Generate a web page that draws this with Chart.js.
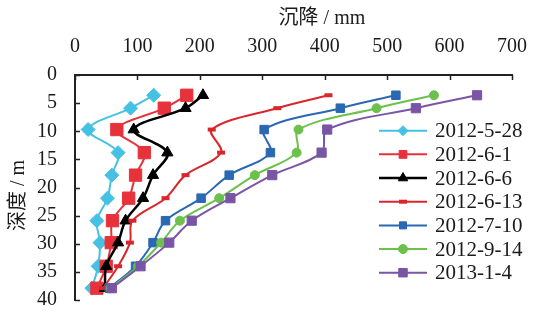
<!DOCTYPE html>
<html>
<head>
<meta charset="utf-8">
<script src="https://cdn.jsdelivr.net/npm/chart.js@4.4.1/dist/chart.umd.min.js"></script>
<style>
  html, body { margin: 0; padding: 0; background: #ffffff; }
  #wrap { width: 535px; height: 322px; }
  .probe { position: absolute; left: -9999px; top: 0; font-size: 20px; }
</style>
</head>
<body>
<span class="probe" style="font-family:'Liberation Serif'">0123 沉降</span>
<span class="probe" style="font-family:'DejaVu Serif'">0123</span>
<div id="wrap"><canvas id="c" width="535" height="322"></canvas></div>
<script>
// Depth of each measuring point (m)
const depths = [3.6, 5.9, 9.7, 13.8, 17.8, 21.9, 25.9, 29.8, 34, 37.9];

// Survey dates
const seriesNames = ['2012-5-28', '2012-6-1', '2012-6-6', '2012-6-13', '2012-7-10', '2012-9-14', '2013-1-4'];

// Settlement (mm) at each depth, one list per survey
const settle_2012_5_28 = [126, 89, 21, 69, 59, 52, 35, 40, 37, 27];
const settle_2012_6_1  = [179, 143, 67, 111, 97, 86, 60, 58, 50, 35];
const settle_2012_6_6  = [205, 177, 94, 148, 125, 109, 81, 69, 50, 48];
const settle_2012_6_13 = [406, 324, 219, 234, 177, 145, 92, 88, 69, 45];
const settle_2012_7_10 = [514, 425, 303, 313, 247, 202, 145, 125, 97, 55];
const settle_2012_9_14 = [575, 483, 358, 355, 288, 231, 168, 138, 101, 57];
const settle_2013_1_4  = [644, 546, 404, 395, 316, 249, 187, 151, 105, 59];

// Axis ticks
const settleTicks = [0, 100, 200, 300, 400, 500, 600, 700];
const depthTicks = [0, 5, 10, 15, 20, 25, 30, 35, 40];

const xTitle = '沉降 / mm';
const yTitle = '深度 / m';

const seriesValues = [settle_2012_5_28, settle_2012_6_1, settle_2012_6_6, settle_2012_6_13,
                      settle_2012_7_10, settle_2012_9_14, settle_2013_1_4];

// Visual style per series
const styles = [
  { color: '#45C1E4', style: 'rectRot',  r: 7,   lr: 5,   lw: 2 },
  { color: '#E8323B', style: 'rect',     r: 8.7, lr: 5.5, lw: 2 },
  { color: '#000000', style: 'triangle', r: 6.5, lr: 5.5, lw: 2.5 },
  { color: '#D9262D', style: 'line',     r: 4,   lr: 4,   lw: 2, pbw: 4 },
  { color: '#2A68B2', style: 'rect',     r: 6,   lr: 5,   lw: 2 },
  { color: '#6CC04C', style: 'circle',   r: 4.5, lr: 4.5, lw: 2 },
  { color: '#7A55A6', style: 'rect',     r: 6.5, lr: 6,   lw: 2 }
];

const SERIF = "'Liberation Serif', 'DejaVu Serif', serif";
const CJK = "'Liberation Serif', 'Noto Sans CJK SC', serif";
const TEXT_COLOR = '#1a1a1a';
const AXIS_COLOR = '#222222';

const datasets = seriesNames.map((name, i) => {
  const s = styles[i];
  return {
    label: name,
    data: depths.map((d, k) => ({ x: seriesValues[i][k], y: d })),
    borderColor: s.color,
    backgroundColor: s.color,
    borderWidth: s.lw,
    pointStyle: s.style,
    pointRadius: s.r,
    pointBorderWidth: s.pbw || 1,
    pointBorderColor: s.color,
    pointBackgroundColor: s.color,
    tension: 0.35,
    fill: false,
    clip: false,
    order: -i
  };
});

function drawMarker(ctx, s, x, y, r) {
  ctx.fillStyle = s.color;
  ctx.strokeStyle = s.color;
  ctx.lineWidth = s.pbw || 1;
  if (Chart.helpers && Chart.helpers.drawPoint) {
    Chart.helpers.drawPoint(ctx, { pointStyle: s.style, radius: r, rotation: 0, borderWidth: s.pbw || 1 }, x, y);
  }
}

// Inward ticks, axis titles and in-plot legend
const decor = {
  id: 'decor',
  afterDraw(chart) {
    const { ctx, chartArea: a, scales: { x, y } } = chart;
    ctx.save();
    ctx.strokeStyle = AXIS_COLOR;
    ctx.lineWidth = 1.5;
    const TL = 5;
    x.ticks.forEach(t => {
      const px = Math.round(x.getPixelForValue(t.value)) + 0.5;
      ctx.beginPath(); ctx.moveTo(px, a.top); ctx.lineTo(px, a.top + TL); ctx.stroke();
    });
    y.ticks.forEach(t => {
      const py = Math.round(y.getPixelForValue(t.value)) + 0.5;
      ctx.beginPath(); ctx.moveTo(a.left, py); ctx.lineTo(a.left + TL, py); ctx.stroke();
    });

    // axis titles
    ctx.fillStyle = TEXT_COLOR;
    ctx.font = '20px ' + CJK;
    ctx.textAlign = 'center';
    ctx.textBaseline = 'middle';
    ctx.fillText(xTitle, a.left + (a.right - a.left) * 0.565, 19);
    ctx.save();
    ctx.translate(19, a.top + (a.bottom - a.top) * 0.535);
    ctx.rotate(-Math.PI / 2);
    ctx.fillText(yTitle, 0, 0);
    ctx.restore();

    // legend
    const lx0 = a.right - 133, lx1 = a.right - 85, tx = a.right - 77;
    const ly0 = a.top + 55.7, gap = 23.67;
    ctx.font = '21px ' + SERIF;
    ctx.textAlign = 'left';
    seriesNames.forEach((name, i) => {
      const s = styles[i];
      const yy = ly0 + i * gap;
      ctx.strokeStyle = s.color;
      ctx.lineWidth = s.lw;
      ctx.beginPath(); ctx.moveTo(lx0, yy); ctx.lineTo(lx1, yy); ctx.stroke();
      drawMarker(ctx, s, (lx0 + lx1) / 2, yy, s.lr);
      ctx.fillStyle = TEXT_COLOR;
      ctx.fillText(name, tx, yy + 1);
    });
    ctx.restore();
  }
};

function build() {
  new Chart(document.getElementById('c'), {
    type: 'line',
    data: { datasets },
    options: {
      indexAxis: 'y',
      responsive: false,
      devicePixelRatio: 1,
      animation: false,
      layout: { padding: { left: 0, top: 0, right: 20, bottom: 12 } },
      plugins: { legend: { display: false }, tooltip: { enabled: false } },
      scales: {
        x: {
          type: 'linear',
          position: 'top',
          min: settleTicks[0],
          max: settleTicks[settleTicks.length - 1],
          afterBuildTicks: s => { s.ticks = settleTicks.map(v => ({ value: v })); },
          afterFit: s => { s.height = 75; },
          grid: { display: false },
          border: { display: true, color: AXIS_COLOR, width: 2 },
          ticks: { color: TEXT_COLOR, font: { family: SERIF, size: 20 }, padding: 8, maxRotation: 0 }
        },
        y: {
          type: 'linear',
          position: 'left',
          reverse: true,
          min: depthTicks[0],
          max: depthTicks[depthTicks.length - 1],
          afterBuildTicks: s => { s.ticks = depthTicks.map(v => ({ value: v })); },
          afterFit: s => { s.width = 75; },
          grid: { display: false },
          border: { display: true, color: AXIS_COLOR, width: 2 },
          ticks: { color: TEXT_COLOR, font: { family: SERIF, size: 20 }, padding: 10 }
        }
      }
    },
    plugins: [decor]
  });
}

const fontLoads = ["20px 'Liberation Serif'", "21px 'Liberation Serif'", "20px 'Noto Sans CJK SC'"]
  .map(f => document.fonts ? document.fonts.load(f, '0123沉降') : Promise.resolve());
Promise.all(fontLoads).then(build, build);
</script>
</body>
</html>
